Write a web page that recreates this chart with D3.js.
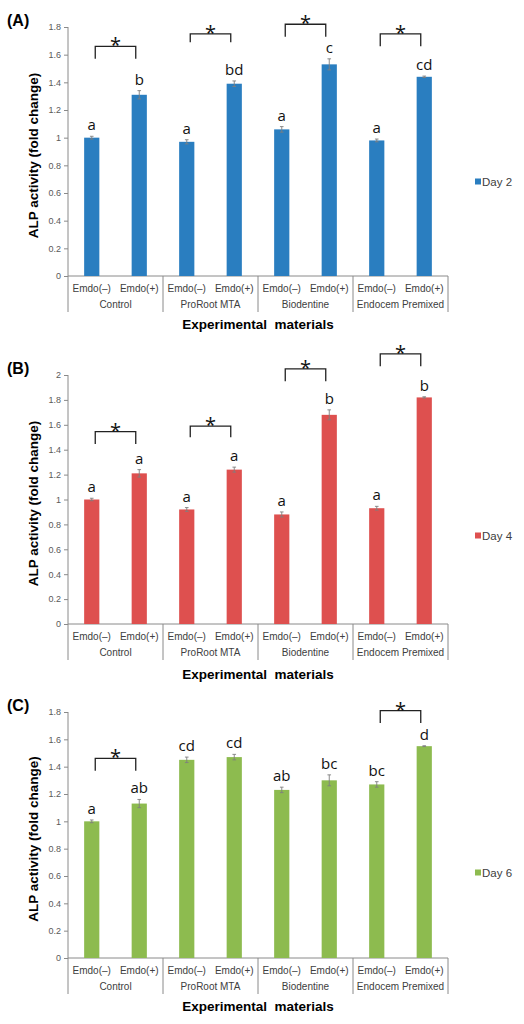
<!DOCTYPE html>
<html><head><meta charset="utf-8">
<script src="https://cdn.jsdelivr.net/npm/d3@7"></script>
<style>body{margin:0;background:#fff}svg{display:block}</style>
</head><body>
<script>
// ---------- DATA ----------
const categories = ["Emdo(–)", "Emdo(+)", "Emdo(–)", "Emdo(+)", "Emdo(–)", "Emdo(+)", "Emdo(–)", "Emdo(+)"];
const groups = ["Control", "ProRoot MTA", "Biodentine", "Endocem Premixed"];
const panelLabels = ["(A)", "(B)", "(C)"];
const seriesNames = ["Day 2", "Day 4", "Day 6"];

const day2Values = [1.00, 1.31, 0.97, 1.39, 1.06, 1.53, 0.98, 1.44];
const day2Errors = [0.01, 0.03, 0.015, 0.02, 0.02, 0.04, 0.01, 0.005];
const day2Letters = ["a", "b", "a", "bd", "a", "c", "a", "cd"];

const day4Values = [1.00, 1.21, 0.92, 1.24, 0.88, 1.68, 0.93, 1.82];
const day4Errors = [0.01, 0.03, 0.015, 0.02, 0.02, 0.04, 0.015, 0.005];
const day4Letters = ["a", "a", "a", "a", "a", "b", "a", "b"];

const day6Values = [1.00, 1.13, 1.45, 1.47, 1.23, 1.30, 1.27, 1.55];
const day6Errors = [0.01, 0.03, 0.02, 0.02, 0.02, 0.04, 0.02, 0.003];
const day6Letters = ["a", "ab", "cd", "cd", "ab", "bc", "bc", "d"];

// significance brackets: group index, top value, leg bottom value
const day2Brackets = [[0, 1.66, 1.57], [1, 1.75, 1.69], [2, 1.82, 1.73], [3, 1.75, 1.66]];
const day4Brackets = [[0, 1.545, 1.446], [1, 1.59, 1.50], [2, 2.05, 1.95], [3, 2.17, 2.07]];
const day6Brackets = [[0, 1.46, 1.37], [3, 1.81, 1.72]];

const yMaxes = [1.8, 2.0, 1.8];
const yTickStep = 0.2;
const xTitle = "Experimental  materials";
const yTitle = "ALP activity (fold change)";

// ---------- LAYOUT ----------
const W = 524, H = 1024;
const colors = ["#2A7EC0", "#DE504F", "#8DBB4F"];
const panels = [
  {top: 27, bottom: 276, label: 26, legend: 182, catY: 292, grpY: 308, sepEnd: 312, xTitleY: 329},
  {top: 375, bottom: 624, label: 374, legend: 536, catY: 640, grpY: 656, sepEnd: 660, xTitleY: 679},
  {top: 712, bottom: 958, label: 711, legend: 873, catY: 974, grpY: 990, sepEnd: 994, xTitleY: 1011}
];
const allValues = [day2Values, day4Values, day6Values];
const allErrors = [day2Errors, day4Errors, day6Errors];
const allLetters = [day2Letters, day4Letters, day6Letters];
const allBrackets = [day2Brackets, day4Brackets, day6Brackets];

const left = 68, right = 448;
const axisColor = "#8a8a8a", textColor = "#404040";
const sans = "'Liberation Sans', Arial, sans-serif";
const letterFont = "'Open Sans', 'Noto Sans', sans-serif";

const svg = d3.select("body").append("svg").attr("width", W).attr("height", H);

const x = d3.scaleBand().domain(d3.range(categories.length)).range([left, right])
  .paddingInner(0.68).paddingOuter(0.34);
const gx = d3.scaleBand().domain(d3.range(groups.length)).range([left, right]);

panels.forEach((p, pi) => {
  const g = svg.append("g");
  const yMax = yMaxes[pi];
  const y = d3.scaleLinear().domain([0, yMax]).range([p.bottom, p.top]);
  const vals = allValues[pi], errs = allErrors[pi], lets = allLetters[pi];

  // panel label
  g.append("text").attr("x", 7).attr("y", p.label).text(panelLabels[pi])
    .attr("font-family", sans).attr("font-weight", "bold").attr("font-size", 16).attr("fill", "#000");

  // y axis
  const ticks = d3.range(0, yMax + 1e-9, yTickStep);
  const yAxis = d3.axisLeft(y).tickValues(ticks).tickSize(4).tickPadding(3)
    .tickFormat(d => d3.format("~g")(+d.toFixed(1)));
  const ya = g.append("g").attr("transform", `translate(${left},0)`).call(yAxis);
  ya.select(".domain").remove();
  ya.selectAll("line").attr("stroke", axisColor);
  ya.selectAll("text").attr("font-family", sans).attr("font-size", 9).attr("fill", "#595959");
  g.append("line").attr("x1", left).attr("x2", left).attr("y1", p.top).attr("y2", p.sepEnd)
    .attr("stroke", axisColor);

  // y title
  g.append("text")
    .attr("transform", `translate(38,${(p.top + p.bottom) / 2 + 4}) rotate(-90)`)
    .attr("text-anchor", "middle").text(yTitle)
    .attr("font-family", sans).attr("font-weight", "bold").attr("font-size", 13.5).attr("fill", "#000");

  // x axis baseline and group separators
  g.append("line").attr("x1", left).attr("x2", right).attr("y1", p.bottom).attr("y2", p.bottom)
    .attr("stroke", axisColor);
  groups.forEach((gr, gi) => {
    const xr = gx(gi) + gx.bandwidth();
    g.append("line").attr("x1", xr).attr("x2", xr).attr("y1", p.bottom).attr("y2", p.sepEnd)
      .attr("stroke", axisColor);
    g.append("text").attr("x", gx(gi) + gx.bandwidth() / 2).attr("y", p.grpY)
      .attr("text-anchor", "middle").text(gr)
      .attr("font-family", sans).attr("font-size", 10).attr("fill", textColor);
  });
  categories.forEach((c, i) => {
    g.append("text").attr("x", x(i) + x.bandwidth() / 2).attr("y", p.catY)
      .attr("text-anchor", "middle").text(c)
      .attr("font-family", sans).attr("font-size", 10).attr("fill", textColor);
  });

  // x title
  g.append("text").attr("x", 258).attr("y", p.xTitleY).attr("text-anchor", "middle")
    .attr("xml:space", "preserve").style("white-space", "pre").text(xTitle)
    .attr("font-family", sans).attr("font-weight", "bold").attr("font-size", 13.5).attr("fill", "#000");

  // bars
  g.selectAll("rect.bar").data(vals).join("rect").attr("class", "bar")
    .attr("x", (d, i) => x(i)).attr("width", x.bandwidth())
    .attr("y", d => y(d)).attr("height", d => y(0) - y(d))
    .attr("fill", colors[pi]);

  // error bars
  vals.forEach((v, i) => {
    const cx = x(i) + x.bandwidth() / 2;
    const e = errs[i];
    const eg = g.append("g").attr("stroke", "#7f7f7f").attr("stroke-width", 0.9);
    eg.append("line").attr("x1", cx).attr("x2", cx).attr("y1", y(v - e)).attr("y2", y(v + e));
    eg.append("line").attr("x1", cx - 1.8).attr("x2", cx + 1.8).attr("y1", y(v + e)).attr("y2", y(v + e));
    eg.append("line").attr("x1", cx - 1.8).attr("x2", cx + 1.8).attr("y1", y(v - e)).attr("y2", y(v - e));
    g.append("text").attr("x", cx).attr("y", y(v + e) - 6).attr("text-anchor", "middle")
      .text(lets[i]).attr("font-family", letterFont).attr("font-size", 15).attr("fill", "#111");
  });

  // significance brackets
  allBrackets[pi].forEach(([gi, topV, botV]) => {
    const x1 = x(gi * 2) + x.bandwidth() / 2 + 3.5;
    const x2 = x(gi * 2 + 1) + x.bandwidth() / 2 - 3.5;
    g.append("path")
      .attr("d", `M${x1},${y(botV)}V${y(topV)}H${x2}V${y(botV)}`)
      .attr("fill", "none").attr("stroke", "#222").attr("stroke-width", 1.3);
    g.append("text").attr("x", (x1 + x2) / 2).attr("y", y(topV) + 6).attr("text-anchor", "middle")
      .text("*").attr("font-family", letterFont).attr("font-size", 20).attr("fill", "#111");
  });

  // legend
  g.append("rect").attr("x", 475).attr("y", p.legend - 3.5).attr("width", 6).attr("height", 6)
    .attr("fill", colors[pi]);
  g.append("text").attr("x", 482).attr("y", p.legend + 4).text(seriesNames[pi])
    .attr("font-family", sans).attr("font-size", 11.5).attr("fill", textColor);
});
</script>
</body></html>
